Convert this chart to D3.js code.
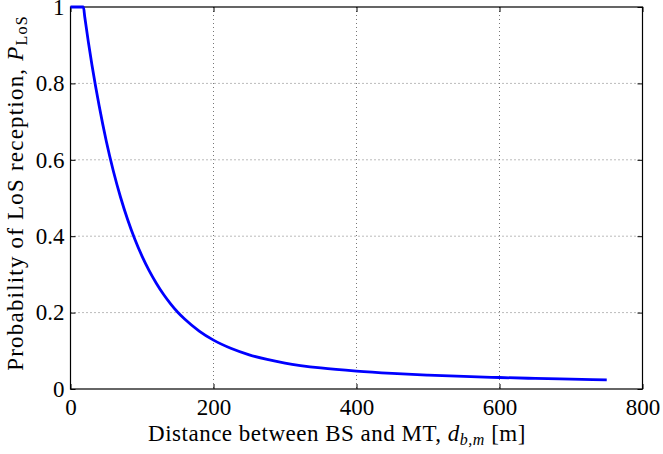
<!DOCTYPE html>
<html><head><meta charset="utf-8">
<script src="https://cdn.jsdelivr.net/npm/d3@7"></script>
<style>body{margin:0;background:#fff}svg{display:block}</style>
</head><body>
<svg id="c" width="663" height="454"></svg>
<script>
const distances = [0, 18, 20, 25, 30, 35, 40, 45, 50, 60, 70, 80, 90, 100, 110, 120, 130, 140, 150, 160, 180, 200, 225, 250, 275, 300, 350, 400, 450, 500, 550, 600, 650, 700, 750];
const probLoS  = [1, 1, 0.973, 0.908, 0.848, 0.793, 0.742, 0.694, 0.649, 0.570, 0.502, 0.443, 0.392, 0.348, 0.310, 0.277, 0.248, 0.223, 0.201, 0.1825, 0.1517, 0.128, 0.106, 0.0895, 0.0774, 0.068, 0.0551, 0.0467, 0.0408, 0.0364, 0.0329, 0.0301, 0.0277, 0.0257, 0.024];
const xTicks = [0, 200, 400, 600, 800];
const yTicks = [0, 0.2, 0.4, 0.6, 0.8, 1];

const svg = d3.select("#c");
const m = {l: 70.5, r: 642.5, t: 7, b: 389};
const x = d3.scaleLinear().domain([0, 800]).range([m.l, m.r]);
const y = d3.scaleLinear().domain([0, 1]).range([m.b, m.t]);
const font = "'Liberation Serif', 'DejaVu Serif', serif";

// grid
const g = svg.append("g");
g.selectAll(".gx").data(xTicks.filter(v => v > 0 && v < 800)).enter().append("line")
  .attr("x1", d => x(d)).attr("x2", d => x(d)).attr("y1", m.t).attr("y2", m.b)
  .attr("stroke", "#777").attr("stroke-width", 1).attr("stroke-dasharray", "1,3");
g.selectAll(".gy").data(yTicks.filter(v => v > 0 && v < 1)).enter().append("line")
  .attr("y1", d => y(d)).attr("y2", d => y(d)).attr("x1", m.l).attr("x2", m.r)
  .attr("stroke", "#777").attr("stroke-width", 1).attr("stroke-dasharray", "1,3");

// axes (ticks inward on all sides)
const tk = 5;
svg.append("g").attr("transform", `translate(0,${m.b})`)
  .call(d3.axisBottom(x).tickValues(xTicks).tickSize(-tk).tickPadding(10).tickFormat(d3.format("d")))
  .call(a => a.select(".domain").remove());
svg.append("g").attr("transform", `translate(0,${m.t})`)
  .call(d3.axisTop(x).tickValues(xTicks).tickSize(-tk).tickFormat(""))
  .call(a => a.select(".domain").remove());
svg.append("g").attr("transform", `translate(${m.l},0)`)
  .call(d3.axisLeft(y).tickValues(yTicks).tickSize(-tk).tickPadding(6).tickFormat(d => d3.format("")(d)))
  .call(a => a.select(".domain").remove());
svg.append("g").attr("transform", `translate(${m.r},0)`)
  .call(d3.axisRight(y).tickValues(yTicks).tickSize(-tk).tickFormat(""))
  .call(a => a.select(".domain").remove());
svg.selectAll(".tick line").attr("stroke", "#000").attr("stroke-width", 1);
svg.selectAll(".tick text").attr("font-family", font).attr("font-size", 23).attr("fill", "#000");

// frame
svg.append("rect").attr("x", m.l).attr("y", m.t).attr("width", m.r - m.l).attr("height", m.b - m.t)
  .attr("fill", "none").attr("stroke", "#000").attr("stroke-width", 1.2);

// curve
const line = d3.line().x((d, i) => x(distances[i])).y(d => y(d)).curve(d3.curveMonotoneX);
svg.append("path").datum(probLoS).attr("d", line)
  .attr("fill", "none").attr("stroke", "#0000ff").attr("stroke-width", 2.8);

// x label
const xl = svg.append("text").attr("x", 337).attr("y", 441)
  .attr("text-anchor", "middle").attr("font-family", font).attr("font-size", 23).attr("letter-spacing", 0.5);
xl.append("tspan").text("Distance between BS and MT, ");
xl.append("tspan").attr("font-style", "italic").text("d");
xl.append("tspan").attr("font-style", "italic").attr("font-size", 16).attr("dy", 4).text("b,m");
xl.append("tspan").attr("dy", -4).text(" [m]");

// y label
const yl = svg.append("text").attr("transform", `translate(23,193) rotate(-90)`)
  .attr("text-anchor", "middle").attr("font-family", font).attr("font-size", 23).attr("letter-spacing", 1.2);
yl.append("tspan").text("Probability of LoS reception, ");
yl.append("tspan").attr("font-style", "italic").text("P");
yl.append("tspan").attr("font-size", 16).attr("dy", 4).text("LoS");
</script>
</body></html>
